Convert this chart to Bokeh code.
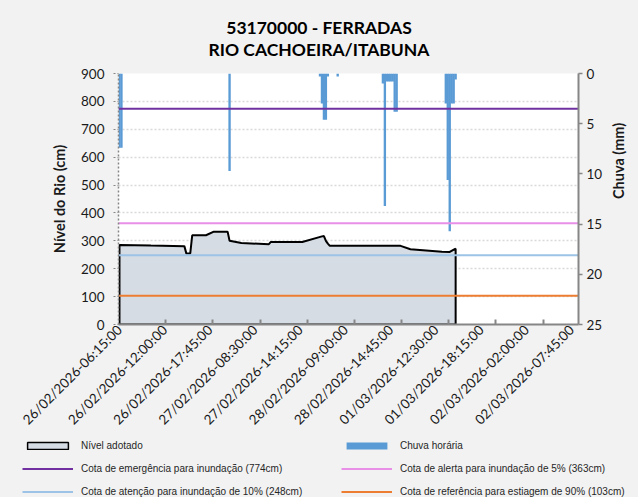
from math import pi
from bokeh.plotting import figure
from bokeh.layouts import column
from bokeh.models import Range1d, LinearAxis, FixedTicker, Legend, LegendItem, Div
from bokeh.embed import file_html
from bokeh.resources import INLINE

# ---------------- data ----------------
title_lines = ["53170000 - FERRADAS", "RIO CACHOEIRA/ITABUNA"]
n_categories = 234          # 15-minute records on the category axis
label_step = 23             # one label every 23 records
tick_step = 24              # one tick mark every 24 records
x_labels = ["26/02/2026-06:15:00", "26/02/2026-12:00:00", "26/02/2026-17:45:00",
            "27/02/2026-08:30:00", "27/02/2026-14:15:00", "28/02/2026-09:00:00",
            "28/02/2026-14:45:00", "01/03/2026-12:30:00", "01/03/2026-18:15:00",
            "02/03/2026-02:00:00", "02/03/2026-07:45:00"]

# Nível adotado (cm) at record index
level_idx = [0, 16, 33, 34, 36, 37, 44, 48, 55, 56, 62, 76, 77, 93, 103, 104, 105, 106, 107,
             143, 148, 164, 168, 171]
level_cm = [285, 283, 281, 255, 255, 320, 320, 333, 333, 300, 292, 288, 296, 296, 316, 317, 300, 290, 282,
            282, 270, 261, 260, 272]

# Chuva horária (mm) at record index
rain_idx = [0, 1, 56, 102, 103, 104, 105, 106, 111, 134, 135, 136, 137, 138, 139, 140, 141,
            166, 167, 168, 169, 170, 171]
rain_mm = [7.4, 7.4, 9.7, 0.3, 3.0, 4.6, 4.6, 0.3, 0.3, 1.0, 13.2, 0.8, 0.8, 0.8, 0.8, 3.8, 3.8,
           3.0, 10.6, 15.7, 3.0, 3.0, 0.6]

thresholds = [774, 363, 248, 103]
threshold_names = ["Cota de emergência para inundação (774cm)",
                   "Cota de alerta para inundação de 5% (363cm)",
                   "Cota de atenção para inundação de 10% (248cm)",
                   "Cota de referência para estiagem de 90% (103cm)"]
threshold_colors = ["#7030a0", "#e88fe8", "#9dc3e6", "#ed7d31"]

left_ticks = list(range(0, 1000, 100))
right_ticks = [0, 5, 10, 15, 20, 25]

# ---------------- styles ----------------
AX = "#868686"
TXT = "#1a1a1a"
BG = "#f2f2f2"
FONT = "Lato"
AREA_FILL = "#d6dce4"
RAIN_FILL = "#5b9bd5"

# derived mark coordinates (from the data above)
lx = [i + 0.5 for i in level_idx]
area_x = [lx[0]] + lx + [lx[-1]]
area_y = [0] + level_cm + [0]
rain_x = [i + 0.5 for i in rain_idx]
x_extent = [0, n_categories]

# ---------------- title ----------------
title_div = Div(text="<br>".join(title_lines), width=638, height=63, margin=0,
                styles={"background-color": BG, "text-align": "center", "font-family": FONT,
                        "font-weight": "bold", "font-size": "17.5px", "line-height": "22px",
                        "padding-top": "17px", "box-sizing": "border-box", "color": "black"})

# ---------------- main chart ----------------
p = figure(width=638, height=376, output_backend="svg", toolbar_location=None,
           x_range=Range1d(0, n_categories), y_range=Range1d(0, 900),
           min_border_left=118, min_border_right=56, min_border_top=10, min_border_bottom=115)
p.margin = 0
p.frame_align = False
p.background_fill_color = "white"
p.border_fill_color = BG
p.outline_line_color = None
p.xgrid.visible = False
p.ygrid.grid_line_color = "#d9d9d9"
p.ygrid.grid_line_dash = "2 2"
p.ygrid.grid_line_width = 1.5

p.extra_y_ranges = {"rain": Range1d(start=25, end=0)}

p.patch(area_x, area_y, fill_color=AREA_FILL, line_color="black", line_width=2)
p.vbar(x=rain_x, width=1.2, bottom=0, top=rain_mm,
       y_range_name="rain", fill_color=RAIN_FILL, line_color=None)
for v, c in zip(thresholds, threshold_colors):
    p.line(x_extent, [v, v], line_color=c, line_width=2)

# x axis
xa = p.xaxis[0]
xa.ticker = FixedTicker(ticks=[k * label_step + 0.5 for k in range(len(x_labels))],
                        minor_ticks=[k * tick_step for k in range(1, n_categories // tick_step + 1)])
xa.major_label_overrides = {k * label_step + 0.5: t for k, t in enumerate(x_labels)}
xa.major_label_orientation = pi / 4
xa.major_tick_in = 0
xa.major_tick_out = 0
xa.minor_tick_in = 5
xa.minor_tick_out = 0
xa.minor_tick_line_color = AX
xa.minor_tick_line_width = 2
xa.axis_line_color = AX
xa.axis_line_width = 2
xa.major_label_text_font = FONT
xa.major_label_text_font_size = "13.5px"
xa.major_label_text_color = TXT
xa.major_label_standoff = 3

# left axis
ya = p.yaxis[0]
ya.ticker = FixedTicker(ticks=left_ticks)
ya.axis_line_color = AX
ya.axis_line_dash = "2 2"
ya.axis_line_width = 1.5
ya.major_tick_line_color = AX
ya.major_tick_line_dash = "2 2"
ya.major_tick_in = 0
ya.major_tick_out = 5
ya.minor_tick_line_color = None
ya.major_label_text_font = FONT
ya.major_label_text_font_size = "13.5px"
ya.major_label_text_color = TXT
ya.major_label_standoff = 9
ya.axis_label = "Nível do Rio (cm)"
ya.axis_label_text_font = FONT
ya.axis_label_text_font_style = "bold"
ya.axis_label_text_font_size = "14.5px"
ya.axis_label_text_color = TXT
ya.axis_label_standoff = 10

# right axis (rain, reversed)
ra = LinearAxis(y_range_name="rain", ticker=FixedTicker(ticks=right_ticks))
ra.axis_line_color = AX
ra.axis_line_width = 2
ra.major_tick_line_color = AX
ra.major_tick_line_width = 1.5
ra.major_tick_in = 0
ra.major_tick_out = 4
ra.minor_tick_line_color = None
ra.major_label_text_font = FONT
ra.major_label_text_font_size = "13.5px"
ra.major_label_text_color = TXT
ra.major_label_standoff = 4
ra.axis_label = "Chuva (mm)"
ra.axis_label_orientation = pi / 2
ra.axis_label_text_font = FONT
ra.axis_label_text_font_style = "bold"
ra.axis_label_text_font_size = "14.5px"
ra.axis_label_text_color = TXT
ra.axis_label_standoff = 13
p.add_layout(ra, "right")

# ---------------- legend strip ----------------
# same series drawn again, but outside this strip's visible range: only the legend shows
lg = figure(width=638, height=58, output_backend="svg", toolbar_location=None,
            x_range=Range1d(-20, -10), y_range=Range1d(0, 1),
            x_axis_location=None, y_axis_location=None,
            min_border=0, min_border_left=0, min_border_right=0, min_border_top=0, min_border_bottom=0)
lg.margin = 0
lg.frame_align = False
lg.background_fill_color = BG
lg.border_fill_color = BG
lg.outline_line_color = None
lg.grid.visible = False
g_area = lg.patch(area_x, area_y, fill_color=AREA_FILL, line_color="black", line_width=1.5)
g_rain = lg.vbar(x=rain_x, top=rain_mm, width=1.2, fill_color=RAIN_FILL, line_color=None)
g_thr = [lg.line(x_extent, [v, v], line_color=c, line_width=2)
         for v, c in zip(thresholds, threshold_colors)]

items = [LegendItem(label="Nível adotado", renderers=[g_area]),
         LegendItem(label="Chuva horária", renderers=[g_rain]),
         LegendItem(label=threshold_names[0], renderers=[g_thr[0]]),
         LegendItem(label=threshold_names[1], renderers=[g_thr[1]]),
         LegendItem(label=threshold_names[2], renderers=[g_thr[2]]),
         LegendItem(label=threshold_names[3], renderers=[g_thr[3]])]
legend = Legend(items=items, orientation="horizontal", ncols=2, location=(22, 0),
                background_fill_alpha=0, border_line_color=None, padding=0, margin=0,
                spacing=11, glyph_width=51, glyph_height=9, label_height=12, label_width=249,
                label_standoff=8, label_text_font="Liberation Sans",
                label_text_font_size="10px", label_text_color="#262626")
lg.add_layout(legend, "center")

layout = column(title_div, p, lg, spacing=0)
layout.styles = {"background-color": BG}
open("out.html", "w").write(file_html(layout, INLINE))
